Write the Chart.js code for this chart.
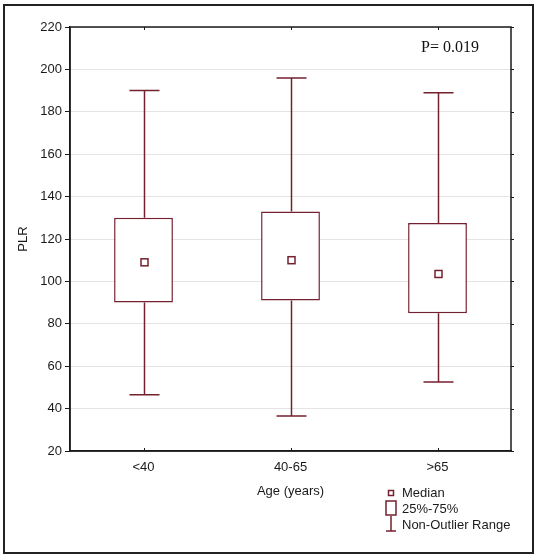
<!DOCTYPE html>
<html>
<head>
<meta charset="utf-8">
<script src="https://cdn.jsdelivr.net/npm/chart.js@4/dist/chart.umd.min.js"></script>
<style>
  html, body { margin: 0; padding: 0; background: #fff; }
  #wrap { position: relative; width: 539px; height: 558px; }
  #frame { position: absolute; left: 3px; top: 4px; width: 531px; height: 550px;
           box-sizing: border-box; border: 2px solid #222; pointer-events: none; }
  canvas { position: absolute; left: 0; top: 0; }
</style>
</head>
<body>
<div id="wrap">
  <canvas id="myChart" width="539" height="558"></canvas>
  <div id="frame"></div>
</div>
<script>
// values
const categories = ['<40', '40-65', '>65'];
const whiskerLow = [46.5, 36.5, 52.5];
const q1 = [90, 91, 85];
const medians = [109, 110, 103.5];
const q3 = [130, 133, 127.5];
const whiskerHigh = [190, 196, 189];
const yTicks = [20, 40, 60, 80, 100, 120, 140, 160, 180, 200, 220];
const pValue = 'P= 0.019';

const boxColor = '#74202f';
const axisColor = '#1a1a1a';
const sansFont = '"Liberation Sans", Arial, sans-serif';

// whiskers, medians, plot frame, p value and legend
const boxExtras = {
    id: 'boxExtras',
    afterDatasetsDraw(chart) {
        const ctx = chart.ctx;
        const x = chart.scales.x, y = chart.scales.y;
        const area = chart.chartArea;
        ctx.save();
        ctx.strokeStyle = boxColor;
        ctx.lineWidth = 1.5;
        categories.forEach((c, i) => {
            const cx = Math.round(x.getPixelForValue(i)) + 0.5;
            const capHalf = 15;
            ctx.beginPath();
            ctx.moveTo(cx, y.getPixelForValue(q3[i]));
            ctx.lineTo(cx, y.getPixelForValue(whiskerHigh[i]));
            ctx.moveTo(cx - capHalf, y.getPixelForValue(whiskerHigh[i]));
            ctx.lineTo(cx + capHalf, y.getPixelForValue(whiskerHigh[i]));
            ctx.moveTo(cx, y.getPixelForValue(q1[i]));
            ctx.lineTo(cx, y.getPixelForValue(whiskerLow[i]));
            ctx.moveTo(cx - capHalf, y.getPixelForValue(whiskerLow[i]));
            ctx.lineTo(cx + capHalf, y.getPixelForValue(whiskerLow[i]));
            ctx.stroke();
            const my = y.getPixelForValue(medians[i]);
            ctx.strokeRect(cx - 3.5, my - 3.5, 7, 7);
        });

        // plot frame with small ticks
        ctx.strokeStyle = axisColor;
        ctx.lineWidth = 1.5;
        ctx.strokeRect(area.left, area.top, area.right - area.left, area.bottom - area.top);
        ctx.lineWidth = 1;
        ctx.beginPath();
        yTicks.forEach(v => {
            const ty = Math.round(y.getPixelForValue(v)) + 0.5;
            ctx.moveTo(area.right, ty);
            ctx.lineTo(area.right + 3, ty);
        });
        categories.forEach((c, i) => {
            const tx = Math.round(x.getPixelForValue(i)) + 0.5;
            ctx.moveTo(tx, area.top);
            ctx.lineTo(tx, area.top + 3);
            ctx.moveTo(tx, area.bottom);
            ctx.lineTo(tx, area.bottom - 3);
        });
        ctx.stroke();

        // p value
        ctx.fillStyle = '#111';
        ctx.font = '16px "Liberation Serif", "Times New Roman", serif';
        ctx.textBaseline = 'middle';
        ctx.textAlign = 'left';
        ctx.fillText(pValue, 421, 48);

        // legend
        ctx.font = '13px ' + sansFont;
        ctx.fillStyle = '#1a1a1a';
        ctx.fillText('Median', 402, 493);
        ctx.fillText('25%-75%', 402, 509);
        ctx.fillText('Non-Outlier Range', 402, 525);
        ctx.strokeStyle = boxColor;
        ctx.lineWidth = 1.5;
        ctx.strokeRect(388.5, 490.5, 5, 5);
        ctx.strokeRect(386, 501, 10, 14);
        ctx.beginPath();
        ctx.moveTo(391, 516); ctx.lineTo(391, 531);
        ctx.moveTo(386, 531); ctx.lineTo(396, 531);
        ctx.stroke();
        ctx.restore();
    }
};

new Chart(document.getElementById('myChart'), {
    type: 'bar',
    data: {
        labels: categories,
        datasets: [{
            data: categories.map((c, i) => [q1[i], q3[i]]),
            backgroundColor: '#fff',
            borderColor: boxColor,
            borderWidth: 1.5,
            borderSkipped: false,
            barPercentage: 0.4,
            categoryPercentage: 1
        }]
    },
    options: {
        responsive: false,
        animation: false,
        layout: { padding: { top: 27, right: 28, bottom: 57, left: 0 } },
        plugins: { legend: { display: false }, tooltip: { enabled: false } },
        scales: {
            x: {
                offset: true,
                grid: { display: false },
                border: { display: true, color: axisColor, width: 1.5 },
                ticks: { color: '#1a1a1a', font: { family: sansFont, size: 13 }, padding: 1 },
                title: { display: true, text: 'Age (years)', color: '#1a1a1a',
                         font: { family: sansFont, size: 13 }, padding: { top: 0, bottom: 2 } },
                afterFit(scale) { scale.height = 50; }
            },
            y: {
                min: 20,
                max: 220,
                afterBuildTicks(scale) { scale.ticks = yTicks.map(v => ({ value: v })); },
                grid: { color: '#e4e4e4', tickColor: axisColor, tickLength: 5 },
                border: { display: true, color: axisColor, width: 1.5 },
                ticks: { color: '#1a1a1a', font: { family: sansFont, size: 13 }, padding: 3 },
                title: { display: true, text: 'PLR', color: '#1a1a1a',
                         font: { family: sansFont, size: 13 }, padding: { top: 16, bottom: 0 } },
                afterFit(scale) { scale.width = 70; }
            }
        }
    },
    plugins: [boxExtras]
});
</script>
</body>
</html>
